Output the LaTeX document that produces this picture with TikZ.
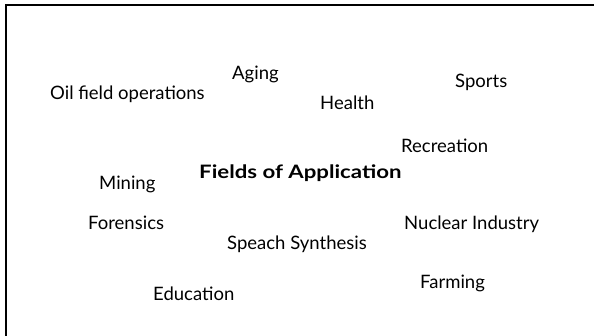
\documentclass[tikz,border=0pt]{standalone}
\usepackage{fontspec}
\setmainfont{Lato}
\begin{document}
\begin{tikzpicture}[x=1pt,y=1pt,
  lbl/.style={anchor=base west, inner sep=0pt, font=\fontsize{18.5}{20}\selectfont},
  title/.style={lbl, font=\fontsize{18.5}{20}\selectfont\bfseries},
  frame/.style={line width=2pt}]
\useasboundingbox (0,0) rectangle (594,-335);
\draw[frame] (6,-336) -- (6,-4.5) -- (595,-4.5);
\node[lbl] (oil) at (50,-99) {Oil field operations};
\node[lbl] (aging) at (232,-79) {Aging};
\node[lbl] (health) at (320,-109) {Health};
\node[lbl] (sports) at (455,-87) {Sports};
\node[lbl] (recreation) at (401,-152) {Recreation};
\node[title] (fields) at (199,-178) {\scalebox{1.2}[1]{Fields of Application}};
\node[lbl] (mining) at (99,-189) {Mining};
\node[lbl] (forensics) at (88,-229) {Forensics};
\node[lbl] (speach) at (227,-249) {Speach Synthesis};
\node[lbl] (nuclear) at (404,-229) {Nuclear Industry};
\node[lbl] (education) at (153,-300) {Education};
\node[lbl] (farming) at (420,-288) {Farming};
\end{tikzpicture}
\end{document}
